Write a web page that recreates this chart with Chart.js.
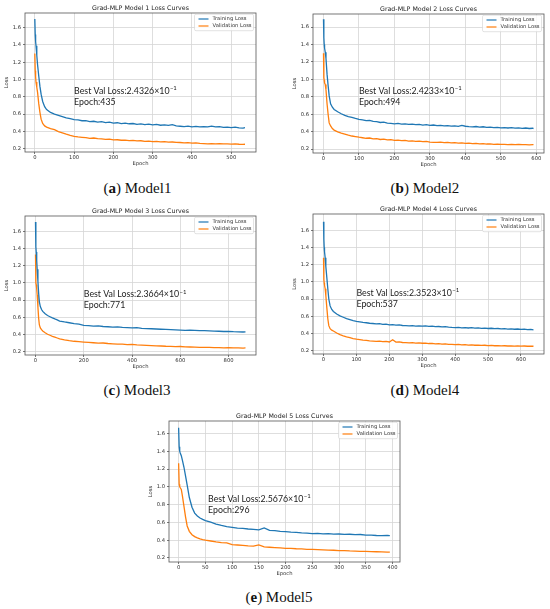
<!DOCTYPE html>
<html>
<head>
<meta charset="utf-8">
<script src="https://cdn.jsdelivr.net/npm/chart.js@4.4.0/dist/chart.umd.min.js"></script>
<style>
  html, body { margin: 0; padding: 0; background: #fff; }
  #page { position: relative; width: 550px; height: 609px; overflow: hidden; background: #fff; }
  .panel { position: absolute; }
  .caption {
    position: absolute;
    font-family: "Liberation Serif", "DejaVu Serif", serif;
    font-size: 15px;
    color: #111;
    white-space: nowrap;
    transform: translate(-50%, -50%);
  }
</style>
</head>
<body>
<div id="page"></div>
<script>
// ---- data ----
const yTicks = [0.2, 0.4, 0.6, 0.8, 1.0, 1.2, 1.4, 1.6];

const m1Epochs = [0,1,2,3,5,7,10,13,16,20,25,30,40,50,60,70,80,90,100,110,120,130,140,150,160,170,180,190,200,210,220,230,240,250,260,270,280,290,300,310,320,330,340,350,360,370,380,390,400,410,420,430,440,450,460,470,480,490,500,510,520,530,535];
const m1Train = [1.70,1.52,1.44,1.39,1.28,1.17,1.04,0.92,0.83,0.745,0.685,0.652, 0.618,0.598,0.584,0.571,0.556,0.546,0.534,0.531,0.522,0.524,0.513,0.516, 0.507,0.511,0.501,0.505,0.494,0.499,0.489,0.494,0.487,0.490, 0.481,0.486,0.478,0.482,0.474,0.479,0.470,0.474,0.468,0.476, 0.462,0.458,0.455,0.459,0.452,0.456,0.450,0.455,0.451,0.460, 0.450,0.453,0.445,0.449,0.443,0.447,0.440,0.436,0.441];
const m1Val = [1.30,1.10,1.03,0.97,0.91,0.85,0.72,0.62,0.54,0.49,0.462,0.448, 0.432,0.418,0.396,0.382,0.366,0.352,0.342,0.334,0.330,0.326,0.318,0.322, 0.314,0.312,0.306,0.309,0.300,0.302,0.296,0.298,0.291,0.294, 0.288,0.290,0.284,0.287,0.281,0.283,0.278,0.280,0.274,0.276, 0.271,0.270,0.266,0.268,0.263,0.265,0.260,0.257,0.253,0.258, 0.255,0.257,0.253,0.255,0.251,0.253,0.250,0.249,0.250];
const m1XTicks = [0, 100, 200, 300, 400, 500];

const m2Epochs = [0,1,2,3,5,7,10,13,16,20,25,30,40,50,60,70,80,90,100,110,120,130,140,150,160,170,180,190,200,210,220,230,240,250,260,270,280,290,300,310,320,330,340,350,360,370,380,390,400,410,420,430,440,450,460,470,480,490,500,510,520,530,540,550,560,570,580,590,592];
const m2Train = [1.69,1.48,1.40,1.36,1.31,1.24,1.06,0.93,0.81,0.72,0.68,0.655, 0.628,0.605,0.586,0.572,0.563,0.551,0.540,0.536,0.527,0.530,0.517,0.514, 0.505,0.509,0.498,0.494,0.490,0.494,0.487,0.490,0.484,0.486, 0.481,0.484,0.475,0.480,0.472,0.476,0.469,0.473,0.466,0.470, 0.463,0.467,0.460,0.471,0.462,0.458,0.455,0.459,0.452,0.456, 0.450,0.453,0.447,0.450,0.444,0.447,0.442,0.446,0.440,0.444, 0.438,0.442,0.436,0.439,0.435];
const m2Val = [1.30,1.02,0.99,0.96,0.94,0.88,0.72,0.60,0.50,0.465,0.435,0.418, 0.398,0.384,0.372,0.360,0.350,0.343,0.336,0.330,0.324,0.327,0.318,0.321, 0.310,0.314,0.305,0.308,0.300,0.303,0.296,0.299,0.292,0.294, 0.289,0.291,0.286,0.288,0.280,0.278,0.276,0.279,0.274,0.276, 0.271,0.273,0.268,0.270,0.265,0.268,0.263,0.265,0.260,0.262, 0.258,0.260,0.255,0.257,0.253,0.255,0.252,0.254,0.251,0.253, 0.250,0.252,0.249,0.251,0.250];
const m2XTicks = [0, 100, 200, 300, 400, 500, 600];

const m3Epochs = [0,1,2,3,5,7,10,13,16,20,25,30,40,50,60,70,80,90,100,120,140,160,180,200,220,240,260,280,300,320,340,360,380,400,420,440,460,480,500,520,540,560,580,600,620,640,660,680,700,720,740,760,780,800,820,840,860,870];
const m3Train = [1.71,1.50,1.42,1.36,1.26,1.16,1.02,0.88,0.78,0.725,0.690,0.668,0.640,0.620,0.606,0.592,0.580,0.570,0.556, 0.545,0.536,0.526,0.520,0.506,0.503,0.496,0.500,0.492,0.489, 0.486,0.488,0.481,0.478,0.475,0.479,0.470,0.468,0.466,0.463, 0.460,0.458,0.455,0.452,0.450,0.448,0.449,0.446,0.444,0.443, 0.441,0.439,0.437,0.434,0.436,0.432,0.430,0.428,0.430];
const m3Val = [1.33,1.08,1.00,0.98,0.93,0.86,0.72,0.59,0.51,0.475,0.455,0.440,0.420,0.402,0.390,0.378,0.368,0.358,0.348, 0.336,0.327,0.320,0.315,0.310,0.306,0.303,0.298,0.300,0.294, 0.290,0.287,0.286,0.282,0.284,0.278,0.275,0.272,0.270,0.267, 0.265,0.262,0.261,0.258,0.259,0.255,0.253,0.252,0.250,0.249, 0.248,0.246,0.245,0.244,0.245,0.243,0.242,0.241,0.242];
const m3XTicks = [0, 200, 400, 600, 800];

const m4Epochs = [0,1,2,3,5,7,10,13,16,20,25,30,40,50,60,70,80,90,100,110,120,130,140,150,160,170,180,190,200,210,220,230,240,250,260,270,280,290,300,310,320,330,340,350,360,370,380,390,400,410,420,430,440,450,460,470,480,490,500,510,520,530,540,550,560,570,580,590,600,610,620,630,638];
const m4Train = [1.70,1.50,1.40,1.35,1.28,1.18,1.05,0.92,0.80,0.720,0.678,0.655, 0.625,0.604,0.588,0.572,0.560,0.548,0.540,0.534,0.528,0.524,0.518,0.515, 0.510,0.513,0.505,0.508,0.500,0.503,0.497,0.499,0.492,0.490, 0.488,0.491,0.485,0.488,0.484,0.487,0.481,0.484,0.478,0.480, 0.476,0.479,0.473,0.470,0.468,0.471,0.465,0.468,0.463,0.466, 0.461,0.464,0.459,0.461,0.457,0.460,0.455,0.457,0.452,0.456, 0.450,0.453,0.448,0.451,0.446,0.449,0.443,0.446,0.441];
const m4Val = [1.28,1.03,0.99,0.96,0.92,0.84,0.70,0.57,0.49,0.455,0.438,0.428, 0.404,0.385,0.372,0.360,0.350,0.340,0.332,0.327,0.322,0.318,0.314,0.311, 0.308,0.310,0.304,0.306,0.300,0.325,0.298,0.300,0.294,0.292, 0.290,0.292,0.287,0.289,0.285,0.287,0.282,0.284,0.279,0.281, 0.276,0.278,0.273,0.272,0.269,0.271,0.266,0.268,0.264,0.266, 0.262,0.264,0.260,0.262,0.258,0.260,0.256,0.258,0.254,0.256, 0.253,0.255,0.252,0.254,0.251,0.253,0.250,0.252,0.250];
const m4XTicks = [0, 100, 200, 300, 400, 500, 600];

const m5Epochs = [0,1,2,3,5,7,10,13,16,20,25,30,35,40,45,50,60,70,80,90,100,110,120,130,140,150,160,170,180,190,200,210,220,230,240,250,260,270,280,290,300,310,320,330,340,350,360,370,380,390,395];
const m5Train = [1.665,1.45,1.40,1.38,1.35,1.30,1.22,1.12,1.02,0.88,0.77,0.705,0.672,0.650,0.634,0.620, 0.603,0.582,0.566,0.552,0.545,0.536,0.532,0.526,0.522,0.516, 0.538,0.510,0.507,0.500,0.496,0.490,0.488,0.482,0.480,0.475, 0.476,0.471,0.473,0.468,0.470,0.465,0.467,0.462,0.464,0.458, 0.457,0.453,0.451,0.454,0.451];
const m5Val = [1.265,1.03,1.00,0.99,0.97,0.90,0.78,0.66,0.56,0.50,0.462,0.440,0.426,0.415,0.407,0.400, 0.391,0.381,0.373,0.370,0.350,0.346,0.342,0.336,0.333,0.348, 0.325,0.321,0.317,0.314,0.309,0.308,0.304,0.302,0.298,0.297, 0.294,0.292,0.288,0.287,0.283,0.282,0.279,0.278,0.275,0.275, 0.272,0.270,0.268,0.267,0.266];
const m5XTicks = [0, 50, 100, 150, 200, 250, 300, 350, 400];

// ---- layout ----
const Y_AXIS_W = 25, TOP_PAD = 14, RIGHT_PAD = 3, X_AXIS_H = 15, BOTTOM_PAD = 2;
const BLUE = '#1f77b4', ORANGE = '#ff7f0e';
const TICK_FONT = { family: 'DejaVu Sans', size: 5.25 };
const GRID = '#d6d6d6';
const ANN_FONT = 'Lato';
const ANN_SIZE = 8.8;

const panels = [
  { n: 1, letter: 'a', epochs: m1Epochs, train: m1Train, val: m1Val, xTicks: m1XTicks,
    xMin: -25, xMax: 563, yMin: 0.16, yMax: 1.77, best: '2.4326', bestEpoch: 435, annX: 100,
    box: { l: 25, t: 13, r: 256, b: 152 }, cap: [137.5, 188] },
  { n: 2, letter: 'b', epochs: m2Epochs, train: m2Train, val: m2Val, xTicks: m2XTicks,
    xMin: -29.6, xMax: 621.6, yMin: 0.155, yMax: 1.75, best: '2.4233', bestEpoch: 494, annX: 100,
    box: { l: 313, t: 14, r: 544, b: 153 }, cap: [425, 188] },
  { n: 3, letter: 'c', epochs: m3Epochs, train: m3Train, val: m3Val, xTicks: m3XTicks,
    xMin: -43.5, xMax: 913.5, yMin: 0.16, yMax: 1.78, best: '2.3664', bestEpoch: 771, annX: 200,
    box: { l: 25, t: 216, r: 256, b: 355 }, cap: [137, 390] },
  { n: 4, letter: 'd', epochs: m4Epochs, train: m4Train, val: m4Val, xTicks: m4XTicks,
    xMin: -32, xMax: 670, yMin: 0.16, yMax: 1.79, best: '2.3523', bestEpoch: 537, annX: 100,
    box: { l: 313, t: 214, r: 544, b: 354 }, cap: [425, 390] },
  { n: 5, letter: 'e', epochs: m5Epochs, train: m5Train, val: m5Val, xTicks: m5XTicks,
    xMin: -18, xMax: 414, yMin: 0.155, yMax: 1.74, best: '2.5676', bestEpoch: 296, annX: 55,
    box: { l: 169, t: 421, r: 400, b: 562 }, cap: [279, 597] }
];

// frame, title, in-plot legend and best-loss note
const panelDecor = {
  id: 'panelDecor',
  afterDraw(chart, args, opts) {
    const { ctx, chartArea: a, scales: { x, y } } = chart;
    ctx.save();
    ctx.strokeStyle = '#555';
    ctx.lineWidth = 0.8;
    ctx.strokeRect(a.left, a.top, a.right - a.left, a.bottom - a.top);

    ctx.fillStyle = '#222';
    ctx.font = '6.3px "DejaVu Sans"';
    ctx.textAlign = 'center';
    ctx.textBaseline = 'alphabetic';
    ctx.fillText(opts.title, (a.left + a.right) / 2, a.top - 3.3);

    // legend box
    const bw = 59, bh = 16.5, bx = a.right - 2.5 - bw, by = a.top + 1.2, r = 1.5;
    ctx.beginPath();
    ctx.moveTo(bx + r, by);
    ctx.lineTo(bx + bw - r, by);
    ctx.quadraticCurveTo(bx + bw, by, bx + bw, by + r);
    ctx.lineTo(bx + bw, by + bh - r);
    ctx.quadraticCurveTo(bx + bw, by + bh, bx + bw - r, by + bh);
    ctx.lineTo(bx + r, by + bh);
    ctx.quadraticCurveTo(bx, by + bh, bx, by + bh - r);
    ctx.lineTo(bx, by + r);
    ctx.quadraticCurveTo(bx, by, bx + r, by);
    ctx.closePath();
    ctx.fillStyle = 'rgba(255,255,255,0.85)';
    ctx.fill();
    ctx.strokeStyle = '#d0d0d0';
    ctx.lineWidth = 0.6;
    ctx.stroke();
    chart.data.datasets.forEach((ds, i) => {
      const ly = by + 4.8 + i * 7;
      ctx.strokeStyle = ds.borderColor;
      ctx.lineWidth = 1.2;
      ctx.beginPath();
      ctx.moveTo(bx + 4, ly);
      ctx.lineTo(bx + 14, ly);
      ctx.stroke();
      ctx.fillStyle = '#333';
      ctx.font = '5.25px "DejaVu Sans"';
      ctx.textAlign = 'left';
      ctx.textBaseline = 'middle';
      ctx.fillText(ds.label, bx + 18, ly);
    });

    // best validation loss note
    const ax = x.getPixelForValue(opts.annX), ay = y.getPixelForValue(0.8);
    ctx.fillStyle = '#222';
    ctx.textAlign = 'left';
    ctx.textBaseline = 'middle';
    ctx.font = ANN_SIZE + 'px ' + ANN_FONT;
    const main = 'Best Val Loss:' + opts.best + '×10';
    ctx.fillText(main, ax, ay - 5.5);
    const w = ctx.measureText(main).width;
    ctx.fillText('Epoch:' + opts.bestEpoch, ax, ay + 5.5);
    ctx.font = (ANN_SIZE * 0.68) + 'px ' + ANN_FONT;
    ctx.fillText('−1', ax + w + 0.4, ay - 8.5);
    ctx.restore();
  }
};

const page = document.getElementById('page');

panels.forEach(p => {
  const left = p.box.l - Y_AXIS_W, top = p.box.t - TOP_PAD;
  const width = p.box.r - p.box.l + Y_AXIS_W + RIGHT_PAD;
  const height = p.box.b - p.box.t + TOP_PAD + X_AXIS_H + BOTTOM_PAD;

  const div = document.createElement('div');
  div.className = 'panel';
  div.style.left = left + 'px';
  div.style.top = top + 'px';
  div.style.width = width + 'px';
  div.style.height = height + 'px';
  const canvas = document.createElement('canvas');
  canvas.width = width;
  canvas.height = height;
  canvas.style.width = width + 'px';
  canvas.style.height = height + 'px';
  div.appendChild(canvas);
  page.appendChild(div);

  const cap = document.createElement('div');
  cap.className = 'caption';
  cap.style.left = p.cap[0] + 'px';
  cap.style.top = p.cap[1] + 'px';
  cap.innerHTML = '(<b>' + p.letter + '</b>) Model' + p.n;
  page.appendChild(cap);

  const toPoints = arr => p.epochs.map((e, i) => ({ x: e, y: arr[i] }));

  new Chart(canvas, {
    type: 'line',
    data: {
      datasets: [
        { label: 'Training Loss', data: toPoints(p.train), borderColor: BLUE, borderWidth: 1.3, pointRadius: 0, tension: 0, fill: false },
        { label: 'Validation Loss', data: toPoints(p.val), borderColor: ORANGE, borderWidth: 1.3, pointRadius: 0, tension: 0, fill: false }
      ]
    },
    options: {
      responsive: false,
      animation: false,
      events: [],
      layout: { padding: { left: 0, top: TOP_PAD, right: RIGHT_PAD, bottom: BOTTOM_PAD } },
      plugins: {
        legend: { display: false },
        tooltip: { enabled: false },
        panelDecor: {
          title: 'Grad-MLP Model ' + p.n + ' Loss Curves',
          best: p.best, bestEpoch: p.bestEpoch, annX: p.annX
        }
      },
      scales: {
        x: {
          type: 'linear',
          min: p.xMin,
          max: p.xMax,
          afterBuildTicks: s => { s.ticks = p.xTicks.map(v => ({ value: v })); },
          afterFit: s => { s.height = X_AXIS_H; },
          ticks: { font: TICK_FONT, color: '#333', padding: 0, maxRotation: 0, autoSkip: false, callback: v => String(v) },
          grid: { color: GRID, lineWidth: 0.8, tickLength: 2, tickColor: '#555' },
          border: { display: false },
          title: { display: true, text: 'Epoch', font: TICK_FONT, color: '#333', padding: { top: 0, bottom: 0 } }
        },
        y: {
          type: 'linear',
          min: p.yMin,
          max: p.yMax,
          afterBuildTicks: s => { s.ticks = yTicks.map(v => ({ value: v })); },
          afterFit: s => { s.width = Y_AXIS_W; },
          ticks: { font: TICK_FONT, color: '#333', padding: 2, autoSkip: false, callback: v => v.toFixed(1) },
          grid: { color: GRID, lineWidth: 0.8, tickLength: 2, tickColor: '#555' },
          border: { display: false },
          title: { display: true, text: 'Loss', font: TICK_FONT, color: '#333', padding: { top: 3.5, bottom: 0 } }
        }
      }
    },
    plugins: [panelDecor]
  });
});
</script>
</body>
</html>
